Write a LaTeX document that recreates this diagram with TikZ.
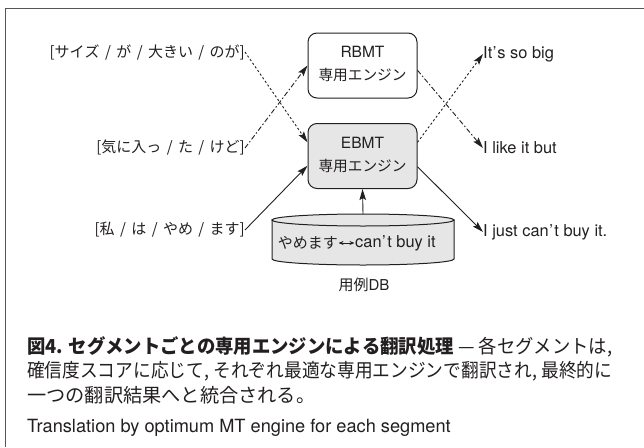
\documentclass[tikz,border=0pt]{standalone}
\usepackage{fontspec}
\usepackage{graphicx}
\setmainfont{Noto Sans CJK JP}[Kerning=Off]
\newfontfamily\latinsans{TeX Gyre Heros}
\usetikzlibrary{arrows.meta,calc}
\definecolor{ink}{HTML}{231F20}
\definecolor{boxgray}{HTML}{E6E6E7}
\definecolor{framecol}{HTML}{555555}
% wider word spaces for the bracketed segment lists
\newcommand\jpwidespace{\spaceskip=.36em\relax}
% two-line label of an engine box
\newcommand\enginelabel[1]{%
  \begin{tabular}{@{}c@{}}%
    {\latinsans\fontsize{15.5}{18}\selectfont #1}\\[5pt]%
    \resizebox{88pt}{!}{\fontsize{15}{18}\selectfont 専用エンジン}%
  \end{tabular}}
% caption lines set to the full measure
\newcommand\captionline[1]{\resizebox{585pt}{\height}{#1}}

\begin{document}
\begin{tikzpicture}[x=1pt,y=-1pt,
  every node/.style={inner sep=0pt, text=ink},
  jp/.style={font=\fontsize{15}{17}\selectfont\jpwidespace},
  lat/.style={font=\latinsans\fontsize{16.4}{18}\selectfont},
  lbl/.style={jp, anchor=east},
  outlbl/.style={lat, anchor=west},
  engine/.style={draw=ink, line width=1pt, rounded corners=9pt,
    minimum width=109pt, minimum height=65pt,
    font=\fontsize{15}{18}\selectfont},
  arrowline/.style={-{Stealth[length=11pt,width=6.5pt,inset=2pt]}, line width=0.9pt, draw=ink},
  dotconn/.style={arrowline, dash pattern=on 2.2pt off 2.2pt},
  dashdotconn/.style={arrowline, dash pattern=on 5pt off 2.2pt on 1.5pt off 2.2pt},
  solidconn/.style={arrowline},
  caption/.style={anchor=west, font=\fontsize{19.2}{22}\selectfont},
]
\useasboundingbox (0,0) rectangle (644,447);

% frame
\draw[framecol, line width=1.6pt] (5.5,447) -- (5.5,8.5) -- (644,8.5);

% engines
\node[engine, fill=white] (rbmt) at (362.5,65.5) {\enginelabel{RBMT}};
\node[engine, fill=boxgray] (ebmt) at (362.5,156) {\enginelabel{EBMT}};

% example database (cylinder)
\path[fill=boxgray, draw=ink, line width=1pt]
  (454,220) -- (454,259) arc[start angle=0, end angle=180, x radius=91, y radius=6]
  -- (272,220) -- cycle;
\draw[fill=boxgray, draw=ink, line width=1pt] (363,220) ellipse [x radius=91, y radius=6];
\coordinate (dbtop) at (363,214);
\node[jp, anchor=east] (dbja) at (338,243) {やめます};
\node[lat, anchor=west] (dben) at (355,243) {can\kern.5pt’\kern1.5pt t buy it};
\draw[{Stealth[length=5pt,width=4pt]}-{Stealth[length=5pt,width=4pt]}, line width=0.8pt, draw=ink,
  shorten <=0.5pt, shorten >=0.5pt] (dbja) -- (dben);
\node[jp] (dblabel) at (364,285) {用例{\latinsans DB}};

% source segments
\node[lbl] (s1) at (245,52) {[サイズ / が / 大きい / のが]};
\node[lbl] (s2) at (245,148) {[気に入っ / た / けど]};
\node[lbl] (s3) at (245,230) {[私 / は / やめ / ます]};

% translated segments
\node[outlbl] (t1) at (483,54) {It\kern.5pt’\kern1pt s so big};
\node[outlbl] (t2) at (483,148) {I like it but};
\node[outlbl] (t3) at (483,232) {I just can\kern.5pt’\kern1.5pt t buy it.};

% connectors
\draw[dotconn] (s1.east) -- (ebmt.166);
\draw[dashdotconn] (s2.east) -- (rbmt.180);
\draw[solidconn] (s3.east) -- (ebmt.190);
\draw[dashdotconn] (rbmt.-5) -- (t2.west);
\draw[dotconn] (ebmt.14) -- (t1.west);
\draw[solidconn] (ebmt.-11) -- (t3.west);
\draw[solidconn] (dbtop) -- (ebmt.south);

% caption
\node[caption] (cap1) at (27,347) {\captionline{\textbf{図4.\hspace{.3em}セグメントごとの専用エンジンによる翻訳処理} — 各セグメントは,}};
\node[caption] (cap2) at (27,371) {\captionline{確信度スコアに応じて,\hspace{.25em}それぞれ最適な専用エンジンで翻訳され,\hspace{.25em}最終的に}};
\node[caption] (cap3) at (27,395) {一つの翻訳結果へと統合される。};
\node[caption, font=\latinsans\fontsize{18.2}{20}\selectfont] (cap4) at (27,428) {Translation by optimum MT engine for each segment};
\end{tikzpicture}
\end{document}
